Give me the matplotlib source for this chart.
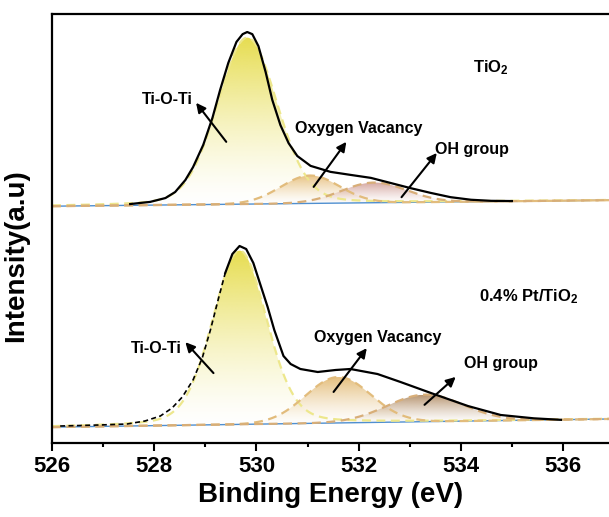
import numpy as np
import matplotlib
matplotlib.use('Agg')
import matplotlib.pyplot as plt
from matplotlib.ticker import MultipleLocator
from matplotlib.colors import to_rgb

plt.rcParams['font.family'] = ['Liberation Sans', 'DejaVu Sans']
plt.rcParams['font.weight'] = 'bold'
plt.rcParams['mathtext.fontset'] = 'custom'
plt.rcParams['mathtext.rm'] = 'Liberation Sans:bold'
plt.rcParams['mathtext.it'] = 'Liberation Sans:bold'
plt.rcParams['mathtext.bf'] = 'Liberation Sans:bold'

# O 1s raw spectra (binding energy in eV, intensity in a.u., curves stacked)
top_be = [527.53, 527.92, 528.22, 528.41, 528.61, 528.76, 528.96, 529.14, 529.29,
          529.45, 529.61, 529.73, 529.82, 529.92, 530.04, 530.18, 530.31, 530.47,
          530.63, 530.80, 531.06, 531.45, 531.84, 532.24, 532.63, 533.02, 533.41,
          533.80, 534.20, 534.59, 535.00]
top_counts = [55.7, 56.2, 57.1, 58.5, 61.3, 64.3, 69.5, 75.8, 82.3,
              88.6, 93.5, 95.3, 95.8, 95.3, 92.5, 86.5, 80.0, 74.1,
              69.9, 66.9, 64.6, 63.2, 62.5, 61.8, 60.6, 59.4, 58.3,
              57.3, 56.7, 56.45, 56.4]

bot_be = [526.16, 526.94, 527.47, 527.82, 528.12, 528.35, 528.55, 528.76, 528.94,
          529.10, 529.25, 529.39, 529.53, 529.67, 529.80, 529.94, 530.08, 530.22,
          530.35, 530.53, 530.67, 530.86, 531.20, 531.55, 531.84, 532.37, 532.82,
          533.47, 534.14, 534.78, 535.43, 535.96]
bot_counts = [3.96, 4.20, 4.43, 5.13, 6.29, 8.16, 10.72, 14.69, 19.81,
              26.34, 33.33, 39.63, 44.06, 45.92, 45.22, 41.96, 36.83, 31.70,
              26.34, 20.28, 18.41, 17.25, 16.55, 17.02, 17.25, 16.08, 14.22,
              11.42, 8.62, 6.53, 5.75, 5.40]
bot_dash_until = 529.30   # raw trace drawn dashed below this energy

# fitted components: Ti-O-Ti, oxygen vacancy, OH group (Gaussian-Lorentzian)
peak_names = ['Ti-O-Ti', 'Oxygen Vacancy', 'OH group']
top_centre = [529.82, 531.05, 532.30]
top_height = [38.8, 6.5, 4.7]
top_fwhm = [1.38, 1.35, 1.50]
top_mix = [0.15, 0.0, 0.0]
top_bg = [55.2, 56.6]          # linear background at 526 and 536.9 eV

bot_centre = [529.67, 531.60, 533.30]
bot_height = [40.5, 10.7, 6.3]
bot_fwhm = [1.25, 1.50, 1.75]
bot_mix = [0.20, 0.0, 0.0]
bot_bg = [3.7, 5.6]

fill_top = ['#E4D93C', '#E6BC78', '#D09C94']
fill_bot = ['#E4D93C', '#E2B870', '#B08A62']
edge_cols = ['#EDE78C', '#E2BC7C', '#D8AE78']

# label / arrow placement (text xy, arrow tail, arrow head)
top_text = [(528.26, 80.0), (532.0, 73.4), (534.22, 68.3)]
top_tail = [(529.41, 70.2), (531.12, 59.7), (532.84, 57.3)]
top_head = [(528.82, 79.3), (531.76, 70.2), (533.53, 67.6)]
bot_text = [(528.04, 22.1), (532.37, 24.5), (534.78, 18.6)]
bot_tail = [(529.16, 16.3), (531.51, 11.9), (533.29, 8.9)]
bot_head = [(528.61, 23.5), (532.16, 22.1), (533.90, 15.4)]

XMIN, XMAX = 526.0, 536.9
energy = np.arange(XMIN, XMAX + 0.01, 0.01)


def gl_peak(x, c, h, w, m):
    u = 4 * (x - c) ** 2 / w ** 2
    return h * ((1 - m) * np.exp(-np.log(2) * u) + m / (1 + u))


def gradient_fill(ax, x, base, top, color, amax=0.9):
    poly = ax.fill_between(x, base, top, facecolor='none', edgecolor='none')
    n = 256
    img = np.zeros((n, 1, 4))
    img[:, 0, :3] = to_rgb(color)
    img[:, 0, 3] = amax * np.linspace(0, 1, n) ** 1.4
    im = ax.imshow(img, aspect='auto', origin='lower', interpolation='bilinear',
                   extent=[x.min(), x.max(), base.min(), top.max()], zorder=1)
    im.set_clip_path(poly.get_paths()[0], transform=ax.transData)


def draw_spectrum(ax, centre, height, fwhm, mix, bg, fills, be, counts, dash_until=None):
    bg_line = bg[0] + (bg[1] - bg[0]) * (energy - XMIN) / (XMAX - XMIN)
    for c, h, w, m, fc, ec in zip(centre, height, fwhm, mix, fills, edge_cols):
        comp = gl_peak(energy, c, h, w, m)
        mask = comp > 0.004 * h
        gradient_fill(ax, energy[mask], bg_line[mask], bg_line[mask] + comp[mask], fc)
        ax.plot(energy, bg_line + comp, color=ec, lw=1.6, ls=(0, (4, 2.5)), zorder=2)
    ax.plot(energy, bg_line, color='#4F8FD0', lw=1.0, zorder=1.5)

    be = np.array(be)
    counts = np.array(counts)
    if dash_until is None:
        ax.plot(be, counts, color='k', lw=1.6, zorder=3)
    else:
        i = np.searchsorted(be, dash_until)
        ax.plot(be[:i + 1], counts[:i + 1], color='k', lw=1.2, ls=(0, (3, 2)), zorder=3)
        ax.plot(be[i:], counts[i:], color='k', lw=1.6, zorder=3)


def add_labels(ax, texts, tails, heads):
    for name, t, a, b in zip(peak_names, texts, tails, heads):
        ax.annotate('', xy=b, xytext=a,
                    arrowprops=dict(arrowstyle='-|>', color='k', lw=1.5,
                                    mutation_scale=14, shrinkA=0, shrinkB=0),
                    zorder=4)
        ax.text(t[0], t[1], name, ha='center', va='center', fontsize=11.5,
                fontweight='bold', zorder=5)


fig = plt.figure(figsize=(6.09, 5.17), dpi=100)
ax = fig.add_axes([52 / 609, 74 / 517, 1 - 52 / 609, 429 / 517])

draw_spectrum(ax, top_centre, top_height, top_fwhm, top_mix, top_bg, fill_top,
              top_be, top_counts)
draw_spectrum(ax, bot_centre, bot_height, bot_fwhm, bot_mix, bot_bg, fill_bot,
              bot_be, bot_counts, dash_until=bot_dash_until)
add_labels(ax, top_text, top_tail, top_head)
add_labels(ax, bot_text, bot_tail, bot_head)

ax.text(534.59, 87.4, 'TiO$_2$', ha='center', va='center', fontsize=12, fontweight='bold')
ax.text(535.33, 34.0, '0.4% Pt/TiO$_2$', ha='center', va='center', fontsize=12,
        fontweight='bold')

ax.set_xlim(XMIN, XMAX)
ax.set_ylim(0, 100)
ax.xaxis.set_major_locator(MultipleLocator(2))
ax.xaxis.set_minor_locator(MultipleLocator(1))
ax.set_yticks([])
ax.tick_params(axis='x', which='major', direction='out', length=6, width=1.5,
               labelsize=16, pad=3)
ax.tick_params(axis='x', which='minor', direction='out', length=3, width=1.5)
for lab in ax.get_xticklabels():
    lab.set_fontweight('bold')
for side in ['left', 'bottom', 'top']:
    ax.spines[side].set_linewidth(1.6)
ax.spines['right'].set_visible(False)

ax.set_xlabel('Binding Energy (eV)', fontsize=20, fontweight='bold', labelpad=4)
fig.text(16 / 609, 1 - 256 / 517, 'Intensity(a.u)', rotation=90, ha='center',
         va='center', fontsize=20, fontweight='bold')

fig.savefig('out.png', dpi=100)
plt.close(fig)
